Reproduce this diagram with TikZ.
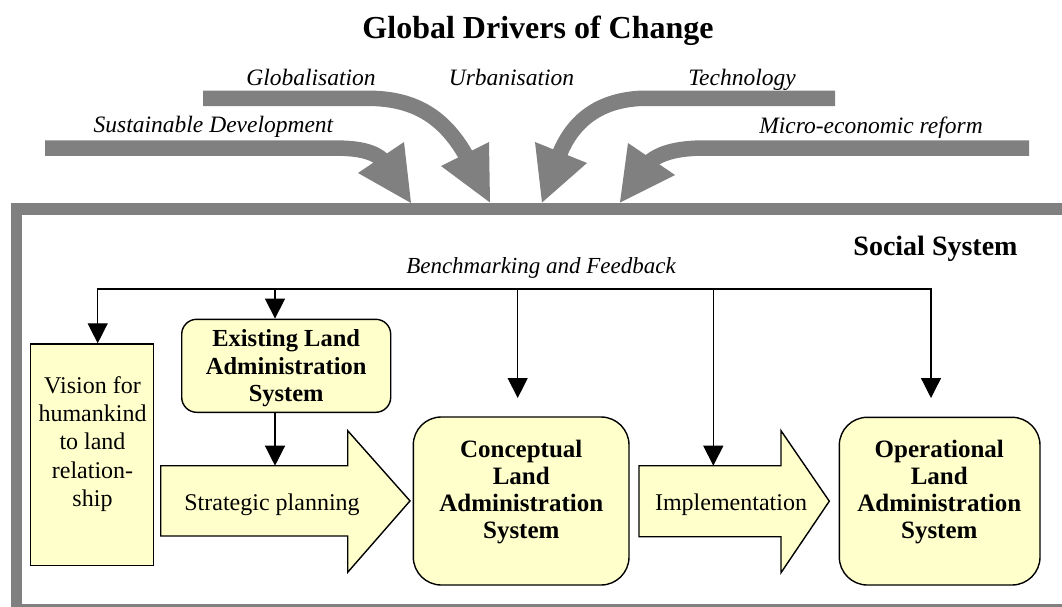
\documentclass[tikz,border=0pt]{standalone}
\usepackage{fontspec}
\setmainfont{Liberation Serif}
\usetikzlibrary{arrows.meta}
\definecolor{drvgray}{HTML}{808080}
\definecolor{boxyellow}{HTML}{FFFFCC}
\begin{document}
\begin{tikzpicture}[x=1pt,y=-1pt,
  shaft/.style={draw=drvgray, line width=15.5pt},
  drvhead/.style={fill=drvgray},
  drvlabel/.style={font=\fontsize{23.5}{27}\selectfont\itshape, anchor=base, inner sep=0pt},
  ybox/.style={draw=black, line width=1.4pt, fill=boxyellow},
  boxtext/.style={font=\fontsize{24}{28.25}\selectfont, align=center, inner sep=0pt},
  boldtext/.style={font=\fontsize{24.5}{27.5}\selectfont\bfseries, align=center, inner sep=0pt},
  bigbold/.style={font=\fontsize{25}{27}\selectfont\bfseries, align=center, inner sep=0pt},
  plaintext/.style={font=\fontsize{24}{28}\selectfont, anchor=base, inner sep=0pt},
  fbline/.style={draw=black, line width=1.3pt},
  fbarrow/.style={fbline, -{Triangle[width=20pt,length=20pt]}}
]
\useasboundingbox (0,0) rectangle (1062,607);
\clip (0,0) rectangle (1062,607);
\fill[white] (0,0) rectangle (1062,607);

% title
\node[font=\fontsize{32}{36}\selectfont\bfseries, anchor=base, inner sep=0pt] (title) at (538,39) {Global Drivers of Change};

% social system frame
\draw[drvgray, line width=11.7pt] (16.5,209) rectangle (1078,609.5);

% driver arrows
\draw[shaft] (45,148) -- (332,148) .. controls (362,148) and (378,152) .. (388,166);
\fill[drvhead] (358,173) -- (404,142) -- (411,203) -- cycle;
\draw[shaft] (203,98.3) -- (368,98.3) .. controls (418,98.3) and (448,120) .. (470,163);
\fill[drvhead] (441,166) -- (489,142) -- (490,202.5) -- cycle;
\draw[shaft] (835,98.3) -- (642,98.3) .. controls (600,100) and (572,120) .. (558,158);
\fill[drvhead] (535,142) -- (587,163) -- (542,202.5) -- cycle;
\draw[shaft] (1029,148) -- (706,148) .. controls (676,148) and (656,153) .. (643,168);
\fill[drvhead] (628,143) -- (675,175) -- (620,202.5) -- cycle;

% driver labels
\node[drvlabel] (sustdev) at (213.5,132) {Sustainable Development};
\node[drvlabel] (global) at (311,86) {Globalisation};
\node[drvlabel] (urban) at (511.5,86) {Urbanisation};
\node[drvlabel] (techno) at (742,86) {Technology};
\node[drvlabel] (micro) at (871,134) {Micro-economic reform};

% inner labels
\node[font=\fontsize{28}{32}\selectfont\bfseries, anchor=base, inner sep=0pt] (social) at (935.5,255) {Social System};
\node[font=\fontsize{23}{27}\selectfont\itshape, anchor=base, inner sep=0pt] (bench) at (541,273) {Benchmarking and Feedback};

% boxes
\node[ybox, minimum width=122.6pt, minimum height=221.7pt, inner sep=0pt] (vision) at (92,454.85) {};
\node[boxtext] (visiontext) at (92.5,443.9) {Vision for\\humankind\\to land\\relation-\\ship};

\node[ybox, rounded corners=15pt, minimum width=209pt, minimum height=93pt, inner sep=0pt] (exist) at (286.2,365.8) {};
\node[boldtext] (existtext) at (286.2,368.5) {Existing Land\\Administration\\System};

\node[ybox, rounded corners=28pt, minimum width=215.7pt, minimum height=168pt, inner sep=0pt] (concept) at (521.15,501) {};
\node[bigbold] (concepttext) at (521.3,492) {Conceptual\\Land\\Administration\\System};

\node[ybox, rounded corners=28pt, minimum width=200.7pt, minimum height=167.7pt, inner sep=0pt] (oper) at (939.65,501.15) {};
\node[bigbold] (opertext) at (939.3,492) {Operational\\Land\\Administration\\System};

% process arrows
\draw[ybox] (160.7,465.7) -- (347.7,465.7) -- (347.7,430.7) -- (410,500.9) -- (347.7,572.3) -- (347.7,536) -- (160.7,536) -- cycle;
\node[plaintext] (strat) at (272,510) {Strategic planning};
\draw[ybox] (639,465.7) -- (781,465.7) -- (781,430.7) -- (829.3,501.2) -- (781,572.7) -- (781,536.7) -- (639,536.7) -- cycle;
\node[plaintext] (impl) at (731,510) {Implementation};

% feedback connectors
\coordinate (fbL) at (97.7,289);
\coordinate (fbR) at (931,289);
\coordinate (fbB) at (275,289);
\coordinate (fbC) at (517.7,289);
\coordinate (fbD) at (713.3,289);
\coordinate (opEnd) at (931,398);
\coordinate (concEnd) at (517.7,398);
\coordinate (implTop) at (713.3,465.7);
\coordinate (stratTop) at (275,465.7);

\draw[fbline, {Triangle[width=20pt,length=20pt]}-{Triangle[width=20pt,length=20pt]}] (fbL |- vision.north) -- (fbL) -- (fbR) -- (opEnd);
\draw[fbarrow] (fbB) -- (fbB |- exist.north);
\draw[fbarrow] (fbC) -- (concEnd);
\draw[fbarrow] (fbD) -- (implTop);
\draw[fbarrow] (exist.south -| stratTop) -- (stratTop);
\end{tikzpicture}
\end{document}
